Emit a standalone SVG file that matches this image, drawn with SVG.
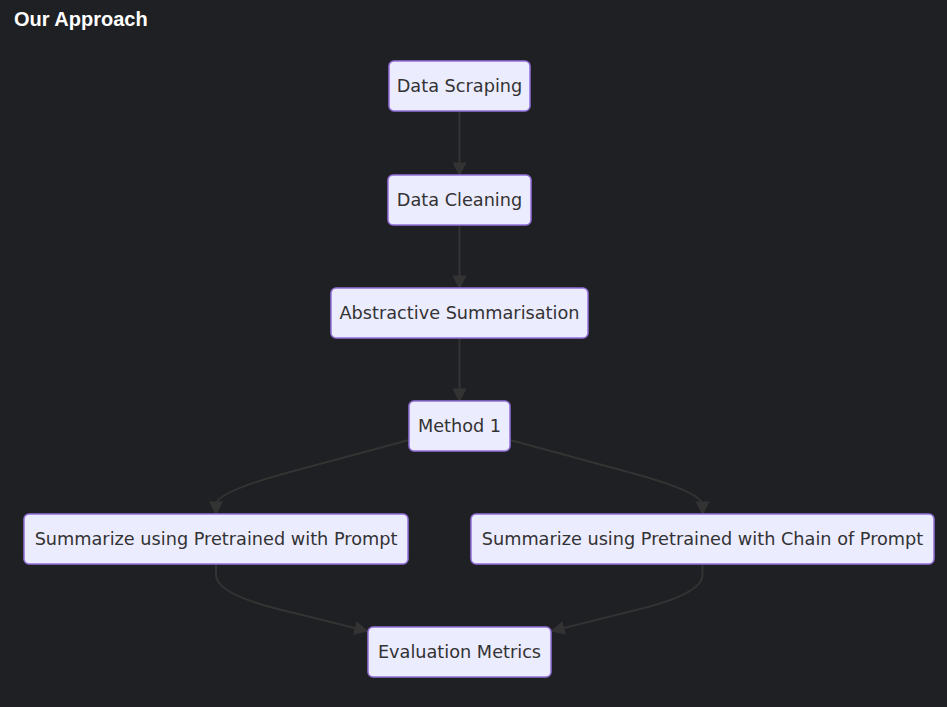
<svg xmlns="http://www.w3.org/2000/svg" width="947" height="707" viewBox="0 0 947 707">
<style>
.node rect{fill:#ECECFF;stroke:#9370DB;stroke-width:1.5}
.node text{font-family:"DejaVu Sans",sans-serif;font-size:17.7px;fill:#333333;text-anchor:middle;dominant-baseline:central}
.edge{fill:none;stroke:#333333;stroke-width:2}
.title{font-family:"Liberation Sans",Arial,sans-serif;font-size:20px;font-weight:bold;fill:#ffffff}
</style>
<defs>
<marker id="arrow" viewBox="0 0 10 10" refX="9" refY="5" markerUnits="userSpaceOnUse" markerWidth="14" markerHeight="14" orient="auto">
<path d="M0,0 L10,5 L0,10 z" fill="#333333"/>
</marker>
</defs>
<rect width="947" height="707" fill="#1f2023"/>
<text class="title" x="14" y="26">Our Approach</text>
<g id="edges">
<path class="edge" d="M459.5,111 L459.5,175" marker-end="url(#arrow)"/>
<path class="edge" d="M459.5,225 L459.5,288" marker-end="url(#arrow)"/>
<path class="edge" d="M459.5,338 L459.5,401" marker-end="url(#arrow)"/>
<path class="edge" d="M409,440 L290,472 Q216,492 216,505 L216,514" marker-end="url(#arrow)"/>
<path class="edge" d="M510,440 L628,472 Q702.5,492 702.5,505 L702.5,514" marker-end="url(#arrow)"/>
<path class="edge" d="M216,564 L216,575 Q216,595 290,612 L367,631" marker-end="url(#arrow)"/>
<path class="edge" d="M702.5,564 L702.5,575 Q702.5,595 628,612 L552,631" marker-end="url(#arrow)"/>
</g>
<g id="n1" class="node"><rect x="389" y="61" width="141" height="50" rx="5"/><text x="459.5" y="86">Data Scraping</text></g>
<g id="n2" class="node"><rect x="388" y="175" width="143" height="50" rx="5"/><text x="459.5" y="200">Data Cleaning</text></g>
<g id="n3" class="node"><rect x="331" y="288" width="257" height="50" rx="5"/><text x="459.5" y="313">Abstractive Summarisation</text></g>
<g id="n4" class="node"><rect x="409" y="401" width="101" height="50" rx="5"/><text x="459.5" y="426">Method 1</text></g>
<g id="n5" class="node"><rect x="24" y="514" width="384" height="50" rx="5"/><text x="216" y="539">Summarize using Pretrained with Prompt</text></g>
<g id="n6" class="node"><rect x="471" y="514" width="463" height="50" rx="5"/><text x="702.5" y="539">Summarize using Pretrained with Chain of Prompt</text></g>
<g id="n7" class="node"><rect x="368" y="627" width="183" height="50" rx="5"/><text x="459.5" y="652">Evaluation Metrics</text></g>
</svg>
